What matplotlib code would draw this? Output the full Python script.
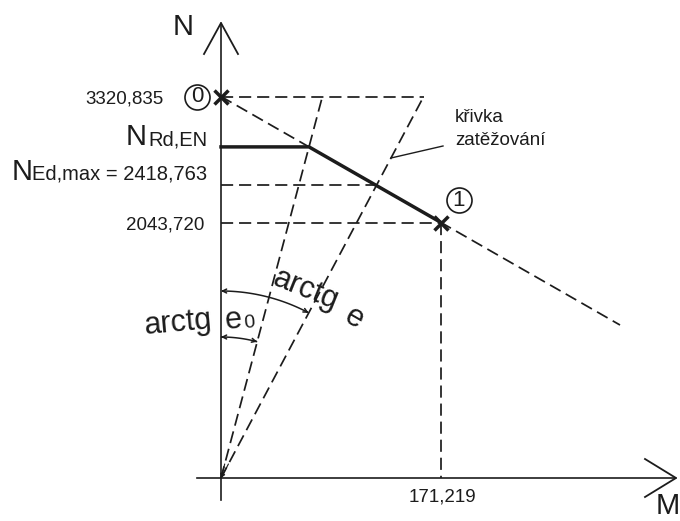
import numpy as np
import matplotlib
matplotlib.use('Agg')
import matplotlib.pyplot as plt
from matplotlib.patches import FancyArrowPatch
from matplotlib.path import Path

plt.rcParams['font.family'] = ['Liberation Sans', 'DejaVu Sans']

# Interaction diagram N-M: points 0 and 1
N_points = [3320.835, 2043.720]      # normal force [kN]
M_points = [0.0, 171.219]            # bending moment [kNm]
point_labels = ['0', '1']
N_tick_labels = ['3320,835', '2043,720']
M_tick_label = '171,219'
N_Rd_EN = 2810.0                     # design resistance level
N_Ed_max = 2418.763                  # maximum design normal force
N_Ed_label = 'Ed,max = 2418,763'

INK = '#1c1c1c'
W, H = 680, 521
fig = plt.figure(figsize=(W / 100, H / 100), dpi=100)
ax = fig.add_axes([0, 0, 1, 1])
ax.set_axis_off()

# drawing scale (the sketch is not to scale below point 1)
x0_px, y0_px = 221.0, 96.5
sM = (M_points[1] - M_points[0]) / (441.0 - x0_px)
sN = (N_points[0] - N_points[1]) / (222.5 - y0_px)


def P(x, y):
    """Sheet position (pixels from top-left) -> (M, N)."""
    return M_points[0] + (x - x0_px) * sM, N_points[0] - (y - y0_px) * sN


ax.set_xlim(P(0, 0)[0], P(W, 0)[0])
ax.set_ylim(P(0, H)[1], P(0, 0)[1])

N_axis = P(0, 478)[1]
dash = dict(color=INK, lw=1.25, linestyle=(0, (7.0, 3.4)))

# coordinate axes with open arrow heads
ax.plot([0, 0], [P(0, 500)[1], P(0, 23)[1]], color=INK, lw=1.2)
ax.plot([P(197, 0)[0], P(676, 0)[0]], [N_axis, N_axis], color=INK, lw=1.2)


def open_head(tip, a, b):
    xs = [P(*a)[0], P(*tip)[0], P(*b)[0]]
    ys = [P(*a)[1], P(*tip)[1], P(*b)[1]]
    ax.plot(xs, ys, color=INK, lw=1.3, solid_joinstyle='miter')


open_head((221, 23), (204, 54), (238, 54))
open_head((676, 478), (645, 459), (645, 497))

# straight interaction line through points 0 and 1
M0, M1 = M_points
N0, N1 = N_points
k = (N1 - N0) / (M1 - M0)
M_end = P(620, 0)[0]
ax.plot([M0, M_end], [N0, N0 + k * (M_end - M0)], **dash)

M_Rd = M0 + (N_Rd_EN - N0) / k
M_Ed = M0 + (N_Ed_max - N0) / k

# resistance curve (thick)
ax.plot([M0, M_Rd, M1], [N_Rd_EN, N_Rd_EN, N1], color=INK, lw=2.5,
        solid_joinstyle='miter')

# loading rays from the origin
def ray_top(Mp, Np):
    return Mp * (N0 - N_axis) / (Np - N_axis)


M_top1 = ray_top(M_Rd, N_Rd_EN)
M_top2 = ray_top(M_Ed, N_Ed_max)
ax.plot([0, M_top1], [N_axis, N0], **dash)
ax.plot([0, M_top2], [N_axis, N0], **dash)

# helper lines
ax.plot([0, M_top2], [N0, N0], **dash)
ax.plot([0, M_Ed], [N_Ed_max, N_Ed_max], **dash)
ax.plot([0, M1], [N1, N1], **dash)
ax.plot([M1, M1], [N1, N_axis], **dash)

# small arrow tips of the rays at the origin
for Mp, Np in [(M_Rd, N_Rd_EN), (M_Ed, N_Ed_max)]:
    t = 14 * sN / (Np - N_axis)
    ax.annotate('', xy=(0, N_axis), xytext=(Mp * t, N_axis + (Np - N_axis) * t),
                arrowprops=dict(arrowstyle='-|>', color=INK, lw=0.8,
                                mutation_scale=6, shrinkA=0, shrinkB=0))

# points 0 and 1
ax.plot(M_points, N_points, linestyle='none', marker='x', markersize=10,
        mew=2.5, color=INK)


def ray_angle(Mp, Np):
    return np.arctan2(Mp / sM, (Np - N_axis) / sN)


def angle_arc(r, phi):
    t = np.linspace(0, phi, 60)
    pts = np.column_stack([r * np.sin(t) * sM, N_axis + r * np.cos(t) * sN])
    arr = FancyArrowPatch(path=Path(pts), arrowstyle='<->', mutation_scale=7,
                          color=INK, lw=1.1, shrinkA=0, shrinkB=0)
    ax.add_patch(arr)


angle_arc(141, ray_angle(M_Rd, N_Rd_EN))
angle_arc(187, ray_angle(M_Ed, N_Ed_max))

# circled point numbers
for (cx, cy), lab in zip([(197, 97), (459, 200)], point_labels):
    xm, ym = P(cx, cy)
    ax.plot([xm], [ym], marker='o', markersize=18, mfc='none', mec=INK, mew=1.2)
    ax.text(xm, ym, lab, fontsize=16, ha='center', va='center', color=INK)

# value labels
ax.text(*P(164, 103.5), N_tick_labels[0], fontsize=13.5, ha='right',
        va='baseline', color=INK)
ax.text(*P(204, 229), N_tick_labels[1], fontsize=13.5, ha='right',
        va='baseline', color=INK)
ax.text(*P(442, 502), M_tick_label, fontsize=13.5, ha='center',
        va='baseline', color=INK)

ax.text(*P(147, 145), 'N', fontsize=21, ha='right', va='baseline', color=INK)
ax.text(*P(207, 145), 'Rd,EN', fontsize=14.5, ha='right', va='baseline', color=INK)
ax.text(*P(12, 180), 'N', fontsize=21, ha='left', va='baseline', color=INK)
ax.text(*P(207, 180), N_Ed_label, fontsize=14.5, ha='right', va='baseline',
        color=INK)

# axis names
ax.text(*P(183, 35), 'N', fontsize=21, ha='center', va='baseline', color=INK)
ax.text(*P(668, 514), 'M', fontsize=21, ha='center', va='baseline', color=INK)

# load path note
ax.text(*P(455, 122), 'křivka', fontsize=13.5, ha='left', va='baseline', color=INK)
ax.text(*P(455, 145), 'zatěžování', fontsize=13.5, ha='left', va='baseline', color=INK)
lead_y = 158
lead_M = M_top2 * (P(0, lead_y)[1] - N_axis) / (N0 - N_axis)
ax.plot([P(443, 146)[0], lead_M], [P(443, 146)[1], P(0, lead_y)[1]],
        color=INK, lw=1.0)

# angle annotations
ax.text(*P(145, 334), 'arctg', fontsize=22, ha='left', va='baseline',
        rotation=5, rotation_mode='anchor', color=INK)
ax.text(*P(226, 329), 'e', fontsize=22, ha='left', va='baseline',
        rotation=5, rotation_mode='anchor', color=INK)
ax.text(*P(244, 328), '0', fontsize=14, ha='left', va='baseline',
        rotation=5, rotation_mode='anchor', color=INK)
ax.text(*P(306, 290), 'arctg', fontsize=22, ha='center', va='center',
        rotation=-22, color=INK)
ax.text(*P(354, 318), 'e', fontsize=22, ha='center', va='center',
        rotation=-30, color=INK)

fig.savefig('out.png', dpi=100, facecolor='white')
